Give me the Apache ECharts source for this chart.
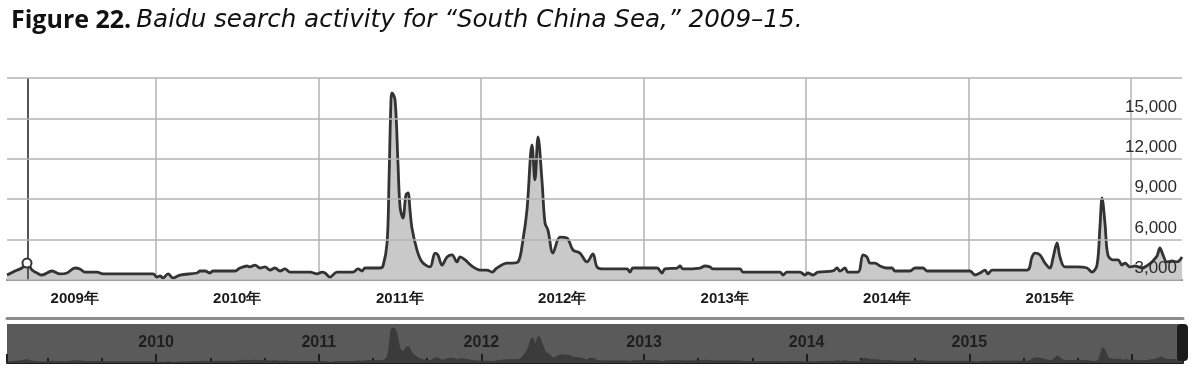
<!DOCTYPE html>
<html>
<head>
<meta charset="utf-8">
<script src="https://cdn.jsdelivr.net/npm/echarts@6/dist/echarts.min.js"></script>
<style>
  html, body { margin: 0; padding: 0; background: #fff; }
  #chart { width: 1196px; height: 378px; }
</style>
</head>
<body>
<div id="chart"></div>
<script>
// time as decimal year
const dates = [
  2009.083, 2009.132, 2009.175, 2009.206, 2009.237, 2009.268, 2009.298, 2009.360, 2009.409, 2009.452,
  2009.502, 2009.532, 2009.563, 2009.637, 2009.674, 2009.982, 2010.006, 2010.025, 2010.043, 2010.074,
  2010.105, 2010.148, 2010.252, 2010.271, 2010.302, 2010.332, 2010.351, 2010.486, 2010.517, 2010.560,
  2010.578, 2010.609, 2010.640, 2010.671, 2010.702, 2010.732, 2010.763, 2010.794, 2010.825, 2010.948,
  2010.991, 2011.022, 2011.040, 2011.071, 2011.114, 2011.212, 2011.243, 2011.268, 2011.286, 2011.378,
  2011.397, 2011.422, 2011.434, 2011.446, 2011.452, 2011.471, 2011.489, 2011.502, 2011.520, 2011.538,
  2011.551, 2011.563, 2011.575, 2011.606, 2011.637, 2011.686, 2011.717, 2011.735, 2011.760, 2011.791,
  2011.822, 2011.852, 2011.871, 2011.902, 2011.951, 2011.994, 2012.037, 2012.068, 2012.098, 2012.160,
  2012.191, 2012.228, 2012.258, 2012.283, 2012.314, 2012.332, 2012.351, 2012.375, 2012.394, 2012.412,
  2012.443, 2012.486, 2012.529, 2012.566, 2012.609, 2012.652, 2012.689, 2012.714, 2012.751, 2012.898,
  2012.917, 2012.935, 2013.083, 2013.114, 2013.132, 2013.206, 2013.225, 2013.243, 2013.348, 2013.378,
  2013.409, 2013.428, 2013.594, 2013.612, 2013.840, 2013.858, 2013.883, 2013.963, 2013.994, 2014.012,
  2014.043, 2014.074, 2014.166, 2014.191, 2014.209, 2014.240, 2014.258, 2014.320, 2014.351, 2014.375,
  2014.394, 2014.425, 2014.455, 2014.498, 2014.529, 2014.548, 2014.640, 2014.671, 2014.720, 2014.745,
  2015.009, 2015.040, 2015.071, 2015.102, 2015.120, 2015.145, 2015.360, 2015.391, 2015.409, 2015.440,
  2015.471, 2015.502, 2015.520, 2015.545, 2015.563, 2015.594, 2015.668, 2015.729, 2015.760, 2015.791,
  2015.809, 2015.822, 2015.840, 2015.858, 2015.889, 2015.920, 2015.945, 2015.963, 2015.994, 2016.025,
  2016.068, 2016.105, 2016.129, 2016.160, 2016.178, 2016.197, 2016.221, 2016.252, 2016.283, 2016.314
];
// Baidu index for "南海"
const searchIndex = [
  3370, 3670, 3890, 4260, 3740, 3520, 3370, 3670, 3450, 3520,
  3890, 3820, 3590, 3590, 3450, 3450, 3220, 3300, 3150, 3450,
  3150, 3370, 3520, 3670, 3670, 3520, 3670, 3670, 3890, 4040,
  3970, 4110, 3890, 3970, 3740, 3890, 3670, 3820, 3590, 3590,
  3450, 3590, 3520, 3220, 3590, 3590, 3820, 3670, 3890, 3890,
  4040, 5750, 10430, 16370, 16890, 16370, 11690, 8420, 7600, 9310,
  9460, 8200, 6860, 5230, 4340, 3970, 5000, 4860, 4110, 4710,
  4860, 4340, 4710, 4490, 3970, 3740, 3740, 3590, 3890, 4260,
  4260, 4340, 5970, 8200, 13030, 10430, 13620, 10430, 7230, 6710,
  5000, 6190, 6120, 5230, 5000, 4340, 4930, 3970, 3820, 3820,
  3590, 3890, 3890, 3520, 3820, 3890, 4040, 3820, 3890, 4040,
  3970, 3820, 3820, 3590, 3590, 3370, 3590, 3590, 3370, 3520,
  3370, 3590, 3670, 3890, 3670, 3890, 3590, 3590, 4860, 4710,
  4260, 4260, 4040, 3890, 3890, 3670, 3670, 3890, 3890, 3670,
  3670, 3370, 3520, 3740, 3450, 3740, 3740, 4710, 5000, 4860,
  4260, 3890, 4630, 5750, 4710, 3970, 3970, 3890, 3590, 4110,
  6940, 9090, 7230, 4860, 4490, 4490, 4110, 4260, 3970, 4040,
  3890, 4110, 4340, 4780, 5380, 4860, 4340, 4410, 4340, 4710
];
const yTicks = [3000, 6000, 9000, 12000, 15000, 18000];
const labelYears = [2009, 2010, 2011, 2012, 2013, 2014, 2015];
const yearSuffix = '年';
const cursorIndex = 3; // hovered point

const xMin = dates[0];
const xMax = dates[dates.length - 1];
const points = dates.map((d, i) => [d, searchIndex[i]]);
const isLabelYear = v => Math.abs(v - Math.round(v)) < 1e-6 && labelYears.includes(Math.round(v));

const chart = echarts.init(document.getElementById('chart'));
chart.setOption({
  animation: false,
  backgroundColor: '#fff',
  title: {
    left: 6,
    top: 3,
    text: '{b|Figure 22.} {i|Baidu search activity for “South China Sea,” 2009–15.}',
    textStyle: {
      rich: {
        b: { fontFamily: 'Open Sans', fontWeight: 'bold', fontSize: 25, color: '#111' },
        i: { fontFamily: 'DejaVu Sans', fontStyle: 'italic', fontWeight: 'normal', fontSize: 24.6, color: '#111' }
      }
    }
  },
  grid: [
    { left: 7, right: 14, top: 78, height: 202 },
    { left: 7, right: 13, top: 324, height: 39, show: true, backgroundColor: '#5a5a5a', borderWidth: 0 }
  ],
  xAxis: [
    {
      type: 'value', gridIndex: 0, position: 'bottom', min: xMin, max: xMax, minInterval: 1, maxInterval: 1,
      axisLine: { lineStyle: { color: '#666', width: 2 } },
      axisTick: { show: false },
      axisLabel: { show: false },
      splitLine: { show: true, showMinLine: false, showMaxLine: false, lineStyle: { color: '#b3b3b3', width: 1.5 } }
    },
    {
      type: 'value', gridIndex: 1, position: 'bottom', min: xMin, max: xMax, minInterval: 1, maxInterval: 1,
      axisLine: { lineStyle: { color: '#1e1e1e', width: 2 } },
      axisTick: { show: true, inside: true, length: 9, lineStyle: { color: '#1e1e1e', width: 2 } },
      minorTick: { show: true, splitNumber: 3, length: 5, lineStyle: { color: '#1e1e1e', width: 2 } },
      axisLabel: {
        inside: true, margin: 12, color: '#1e1e1e', fontFamily: 'Liberation Sans', fontWeight: 'bold', fontSize: 16,
        formatter: v => isLabelYear(v) ? String(Math.round(v)) : ''
      },
      splitLine: { show: false }
    },
    {
      // labels centred on each year
      type: 'value', gridIndex: 0, position: 'bottom', min: xMin - 0.5, max: xMax - 0.5, minInterval: 1, maxInterval: 1,
      axisLine: { show: false },
      axisTick: { show: false },
      splitLine: { show: false },
      axisLabel: {
        margin: 11, color: '#1a1a1a', fontFamily: 'Liberation Sans', fontWeight: 'bold', fontSize: 15,
        formatter: v => isLabelYear(v) ? Math.round(v) + yearSuffix : ''
      }
    },
    {
      type: 'value', gridIndex: 1, position: 'top', offset: 6, min: xMin, max: xMax,
      axisLine: { lineStyle: { color: '#8c8c8c', width: 3 } },
      axisTick: { show: false }, axisLabel: { show: false }, splitLine: { show: false }
    }
  ],
  yAxis: [
    {
      type: 'value', gridIndex: 0, position: 'right', z: 10,
      min: yTicks[0], max: yTicks[yTicks.length - 1], interval: yTicks[1] - yTicks[0],
      axisLine: { show: false }, axisTick: { show: false },
      splitLine: { lineStyle: { color: '#b3b3b3', width: 1.5 } },
      axisLabel: {
        inside: true, margin: 5, verticalAlign: 'bottom', padding: [0, 0, 3, 0],
        color: '#2a2a2a', fontFamily: 'Liberation Sans', fontSize: 17,
        formatter: v => v === yTicks[yTicks.length - 1] ? '' : v.toLocaleString('en-US')
      }
    },
    { type: 'value', gridIndex: 1, min: 3000, max: 18500, show: false }
  ],
  series: [
    {
      name: '南海', type: 'line', xAxisIndex: 0, yAxisIndex: 0,
      data: points, smooth: 0.35, symbol: 'none',
      lineStyle: { color: '#333', width: 2.8 },
      areaStyle: { color: '#c9c9c9', opacity: 1 },
      markLine: {
        silent: true, symbol: 'none', label: { show: false },
        lineStyle: { color: '#555', width: 2, type: 'solid' },
        data: [{ xAxis: dates[cursorIndex] }]
      },
      markPoint: {
        symbol: 'circle', symbolSize: 9, label: { show: false },
        itemStyle: { color: '#fff', borderColor: '#333', borderWidth: 2 },
        data: [{ coord: points[cursorIndex] }]
      }
    },
    {
      type: 'line', xAxisIndex: 1, yAxisIndex: 1,
      data: points, smooth: 0.35, symbol: 'none',
      lineStyle: { color: '#3a3a3a', width: 1 },
      areaStyle: { color: '#3b3b3b', opacity: 1 }
    }
  ],
  graphic: [
    {
      type: 'rect', right: 8, top: 324, z: 100,
      shape: { width: 11, height: 37, r: 4 },
      style: { fill: '#1c1c1c' }
    }
  ]
});
</script>
</body>
</html>
